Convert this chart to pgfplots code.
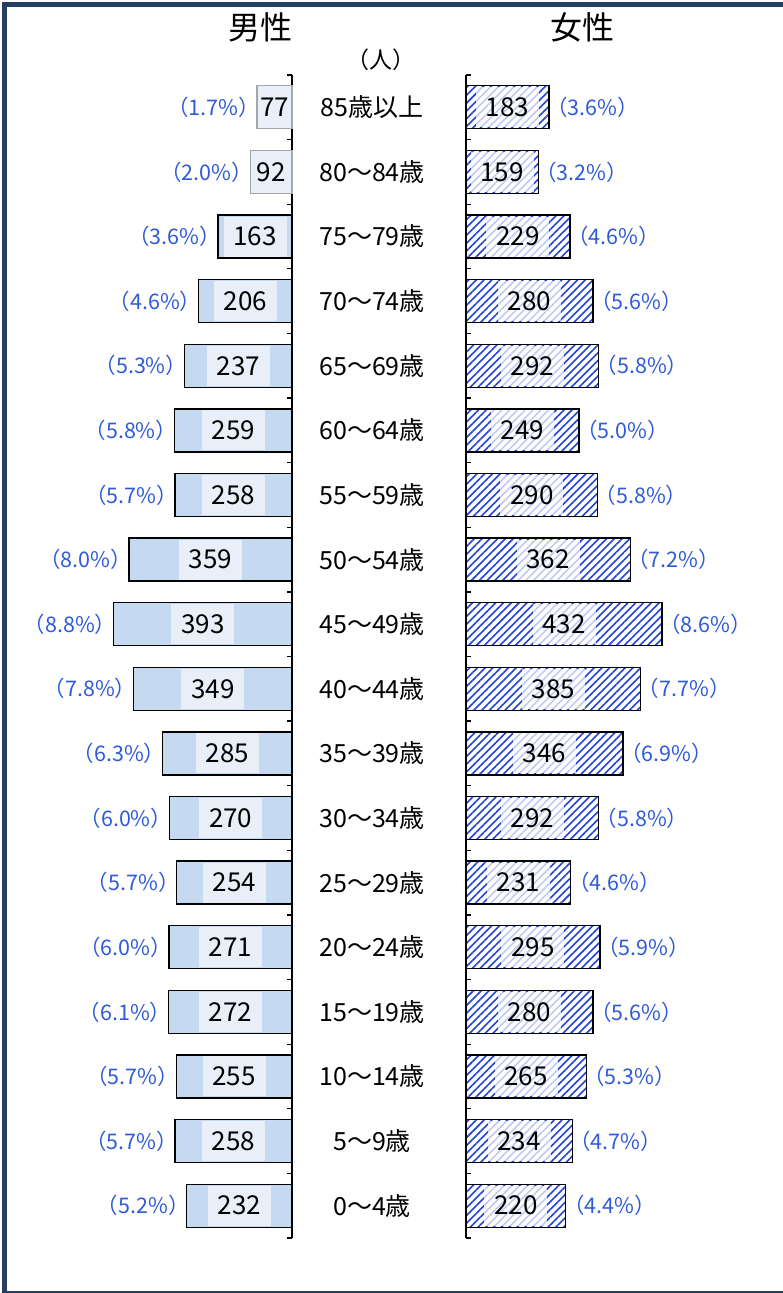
\documentclass[border=0pt]{standalone}
\usepackage{fontspec}
\setmainfont{Noto Sans CJK JP}
\usepackage{pgfplots}
\pgfplotsset{compat=1.18}
\usepackage{pgfplotstable}
\usetikzlibrary{patterns.meta}

\definecolor{mbar}{HTML}{C5D9F1}
\definecolor{mpatch}{HTML}{E9EFF8}
\definecolor{pct}{HTML}{2F5BD6}
\definecolor{hatch}{HTML}{2244D4}
\definecolor{frame}{HTML}{243F60}
\definecolor{lightedge}{HTML}{A6A6A6}

% y: 0 = 0~4, ..., 17 = 85+ ; v = persons ; p = share (%)
\pgfplotstableread{
y v p
0 232 5.2
1 258 5.7
2 255 5.7
3 272 6.1
4 271 6.0
5 254 5.7
6 270 6.0
7 285 6.3
8 349 7.8
9 393 8.8
10 359 8.0
11 258 5.7
12 259 5.8
13 237 5.3
14 206 4.6
15 163 3.6
16 92 2.0
17 77 1.7
}\male

\pgfplotstableread{
y v p
0 220 4.4
1 234 4.7
2 265 5.3
3 280 5.6
4 295 5.9
5 231 4.6
6 292 5.8
7 346 6.9
8 385 7.7
9 432 8.6
10 362 7.2
11 290 5.8
12 249 5.0
13 292 5.8
14 280 5.6
15 229 4.6
16 159 3.2
17 183 3.6
}\female

\pgfplotsset{
  pyr/.style={
    scale only axis, width=204.2pt, height=1163pt,
    ymin=-0.5, ymax=17.5, clip=false,
    hide x axis,
    y axis line style={line width=1.3pt, black},
    tick align=inside,
    tick style={line width=1.3pt, black},
  },
  bars/.style={xbar, bar shift=0pt, bar width=43pt, line width=1.3pt},
  vallab/.style={draw=none, mark=none, nodes near coords={\pgfplotspointmeta},
    point meta=explicit symbolic,
    every node near coord/.append style={anchor=center, inner sep=0pt,
      minimum width=63pt, minimum height=40pt, text=black,
      font=\fontsize{26}{30}\selectfont}},
  pctlab/.style={draw=none, mark=none, nodes near coords={（\pgfplotspointmeta\%）},
    point meta=explicit symbolic,
    every node near coord/.append style={inner sep=0pt, text=pct,
      font=\fontsize{21.5}{24}\selectfont}},
}

\begin{document}
\begin{tikzpicture}
\path[use as bounding box] (0,0) rectangle (783pt,-1293pt);
\fill[frame] (2pt,-2pt) rectangle (7.3pt,-1293pt);
\fill[frame] (2pt,-2pt) rectangle (783pt,-7.3pt);
\fill[frame] (2pt,-1291pt) rectangle (783pt,-1293pt);
\node[font=\fontsize{32}{36}\selectfont] at (260pt,-27pt) {男性};
\node[font=\fontsize{32}{36}\selectfont] at (582pt,-27pt) {女性};
\node[font=\fontsize{23}{26}\selectfont] at (381pt,-60pt) {（人）};

% men, drawn leftwards
\begin{axis}[pyr, at={(292pt,-75pt)}, anchor=north east,
  xmin=-450, xmax=0, axis y line*=right,
  ytick={0,...,17},
  yticklabels={0～4歳,5～9歳,10～14歳,15～19歳,20～24歳,25～29歳,30～34歳,35～39歳,40～44歳,45～49歳,50～54歳,55～59歳,60～64歳,65～69歳,70～74歳,75～79歳,80～84歳,85歳以上},
  major tick length=0pt,
  minor ytick={-0.5,0.5,...,17.5},
  minor tick length=5pt,
  yticklabel style={anchor=center, xshift=80pt, font=\fontsize{25}{28}\selectfont},
]
\addplot[bars, fill=mbar, draw=black, restrict y to domain=0:15]
  table[x expr=-\thisrow{v}, y=y] {\male};
\addplot[bars, fill=mpatch, draw=lightedge, restrict y to domain=16:17]
  table[x expr=-\thisrow{v}, y=y] {\male};
\addplot[vallab, every node near coord/.append style={fill=mpatch},
  restrict y to domain=0:15]
  table[x expr=-\thisrow{v}/2, y=y, meta=v] {\male};
\addplot[vallab, every node near coord/.append style={minimum width=0pt},
  restrict y to domain=16:17]
  table[x expr=-\thisrow{v}/2, y=y, meta=v] {\male};
\addplot[pctlab, every node near coord/.append style={anchor=east, xshift=3pt}]
  table[x expr=-\thisrow{v}, y=y, meta=p] {\male};
\end{axis}

% women, drawn rightwards
\begin{axis}[pyr, at={(466pt,-75pt)}, anchor=north west,
  xmin=0, xmax=450, axis y line*=left,
  ytick={-0.5,0.5,...,17.5}, yticklabels={},
  major tick length=5pt,
]
\addplot[bars, pattern={Lines[angle=45,distance=5.5pt,line width=1.6pt]},
  pattern color=hatch, draw=black]
  table[x=v, y=y] {\female};
\addplot[vallab, every node near coord/.append style={fill=white,
  fill opacity=0.72, text opacity=1}]
  table[x expr=\thisrow{v}/2, y=y, meta=v] {\female};
\addplot[pctlab, every node near coord/.append style={anchor=west, xshift=-3pt}]
  table[x=v, y=y, meta=p] {\female};
\end{axis}
\end{tikzpicture}
\end{document}
